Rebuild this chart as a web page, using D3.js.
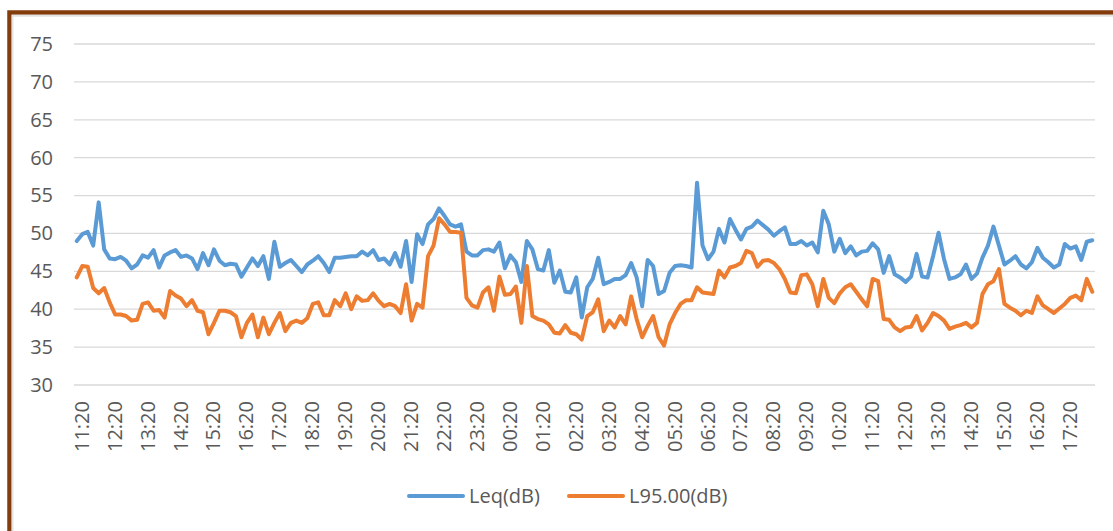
<!DOCTYPE html>
<html>
<head>
<meta charset="utf-8">
<script src="https://cdn.jsdelivr.net/npm/d3@7/dist/d3.min.js"></script>
<style>
  html, body { margin: 0; padding: 0; background: #ffffff; }
  svg { display: block; font-family: "Open Sans", "Noto Sans", sans-serif; }
</style>
</head>
<body>
<svg id="chart" width="1113" height="531"></svg>
<script>
// Sound level readings, one every 10 minutes starting at 11:20
const startTime = "11:20";
const stepMinutes = 10;

const leq = [
  49.0, 49.9, 50.2, 48.4, 54.1, 47.9, 46.7, 46.6, 46.9, 46.4,
  45.4, 45.9, 47.1, 46.8, 47.8, 45.5, 47.1, 47.5, 47.8, 46.9,
  47.1, 46.7, 45.3, 47.4, 45.8, 47.9, 46.4, 45.8, 46.0, 45.9,
  44.3, 45.5, 46.7, 45.7, 47.0, 44.0, 48.9, 45.6, 46.1, 46.5,
  45.7, 44.9, 45.9, 46.4, 47.0, 46.1, 44.9, 46.8, 46.8, 46.9,
  47.0, 47.0, 47.6, 47.1, 47.8, 46.5, 46.7, 45.9, 47.4, 45.6,
  49.0, 43.6, 49.9, 48.6, 51.2, 51.9, 53.3, 52.3, 51.2, 50.9,
  51.2, 47.6, 47.1, 47.1, 47.8, 47.9, 47.6, 48.8, 45.4, 47.1,
  46.2, 43.6, 49.0, 47.9, 45.3, 45.1, 47.8, 43.5, 45.1, 42.3,
  42.2, 44.2, 38.9, 42.9, 44.0, 46.8, 43.3, 43.6, 44.0, 44.0,
  44.5, 46.1, 44.2, 40.4, 46.5, 45.7, 42.0, 42.4, 44.8, 45.7,
  45.8, 45.7, 45.5, 56.7, 48.4, 46.6, 47.6, 50.6, 48.8, 51.9,
  50.5, 49.2, 50.6, 50.9, 51.7, 51.1, 50.5, 49.7, 50.3, 50.8,
  48.6, 48.6, 49.0, 48.4, 48.8, 47.5, 53.0, 51.2, 47.6, 49.3,
  47.4, 48.3, 47.1, 47.6, 47.7, 48.7, 47.9, 44.8, 47.0, 44.6,
  44.2, 43.6, 44.3, 47.3, 44.3, 44.2, 47.0, 50.1, 46.6, 44.0,
  44.2, 44.6, 45.9, 44.0, 44.7, 46.8, 48.4, 50.9, 48.4, 45.9,
  46.4, 47.0, 45.9, 45.4, 46.2, 48.1, 46.8, 46.2, 45.5, 45.9,
  48.6, 48.0, 48.3, 46.5, 48.9, 49.1
];

const l95 = [
  44.2, 45.7, 45.6, 42.8, 42.1, 42.8, 40.9, 39.3, 39.3, 39.1,
  38.5, 38.6, 40.7, 40.9, 39.8, 39.9, 38.9, 42.4, 41.8, 41.4,
  40.4, 41.2, 39.8, 39.6, 36.7, 38.2, 39.8, 39.8, 39.6, 39.1,
  36.3, 38.2, 39.3, 36.3, 38.9, 36.7, 38.2, 39.5, 37.1, 38.2,
  38.5, 38.2, 38.8, 40.7, 40.9, 39.2, 39.2, 41.2, 40.4, 42.1,
  40.0, 41.7, 41.1, 41.2, 42.1, 41.1, 40.4, 40.7, 40.4, 39.5,
  43.3, 38.5, 40.7, 40.2, 47.0, 48.4, 52.0, 51.2, 50.2, 50.2,
  50.1, 41.5, 40.5, 40.2, 42.2, 42.9, 39.8, 44.3, 41.9, 42.0,
  43.0, 38.2, 45.7, 39.1, 38.7, 38.5, 38.0, 36.9, 36.8, 37.9,
  36.9, 36.7, 36.0, 39.1, 39.6, 41.3, 37.1, 38.5, 37.6, 39.1,
  38.0, 41.7, 38.7, 36.3, 37.8, 39.1, 36.3, 35.2, 38.0, 39.5,
  40.7, 41.2, 41.2, 42.9, 42.2, 42.1, 42.0, 45.1, 44.2, 45.5,
  45.7, 46.1, 47.7, 47.4, 45.6, 46.4, 46.5, 46.1, 45.3, 44.0,
  42.2, 42.1, 44.5, 44.6, 43.3, 40.4, 44.0, 41.5, 40.8, 42.1,
  42.9, 43.3, 42.3, 41.3, 40.4, 44.0, 43.7, 38.7, 38.6, 37.6,
  37.1, 37.6, 37.7, 39.1, 37.2, 38.2, 39.5, 39.1, 38.5, 37.4,
  37.7, 37.9, 38.2, 37.6, 38.2, 42.0, 43.3, 43.7, 45.3, 40.7,
  40.2, 39.8, 39.2, 39.8, 39.5, 41.7, 40.5, 40.0, 39.5, 40.1,
  40.7, 41.5, 41.8, 41.2, 44.0, 42.3
];

const tickLabels = [
  "11:20", "12:20", "13:20", "14:20", "15:20", "16:20", "17:20", "18:20",
  "19:20", "20:20", "21:20", "22:20", "23:20", "00:20", "01:20", "02:20",
  "03:20", "04:20", "05:20", "06:20", "07:20", "08:20", "09:20", "10:20",
  "11:20", "12:20", "13:20", "14:20", "15:20", "16:20", "17:20"
];

const yTicks = [30, 35, 40, 45, 50, 55, 60, 65, 70, 75];

const seriesNames = ["Leq(dB)", "L95.00(dB)"];
const seriesColors = ["#5b9bd5", "#ed7d31"];

// Category labels (HH:MM) for every reading
const fmt = d3.timeFormat("%H:%M");
const t0 = d3.timeParse("%H:%M")(startTime);
const categories = leq.map((_, i) => fmt(d3.timeMinute.offset(t0, i * stepMinutes)));

const svg = d3.select("#chart");

// Frame
svg.append("rect")
  .attr("x", 9.5).attr("y", 12.5)
  .attr("width", 1200).attr("height", 600)
  .attr("fill", "none")
  .attr("stroke", "#843c0c")
  .attr("stroke-width", 4.5);
svg.append("path")
  .attr("d", "M12.5,1200V15.8H1200")
  .attr("fill", "none")
  .attr("stroke", "#e4e4e4")
  .attr("stroke-width", 2);

const plot = { left: 74, right: 1095, top: 44, bottom: 385 };

const x = d3.scalePoint()
  .domain(d3.range(categories.length))
  .range([plot.left, plot.right])
  .padding(0.5);

const y = d3.scaleLinear()
  .domain([30, 75])
  .range([plot.bottom, plot.top]);

// Horizontal gridlines
svg.append("g")
  .selectAll("line")
  .data(yTicks)
  .join("line")
  .attr("x1", plot.left).attr("x2", plot.right)
  .attr("y1", d => y(d)).attr("y2", d => y(d))
  .attr("stroke", "#d9d9d9")
  .attr("stroke-width", 1.3);

// Y axis
const yAxis = svg.append("g")
  .attr("transform", `translate(${plot.left - 21},0)`)
  .call(d3.axisLeft(y).tickValues(yTicks).tickSize(0).tickPadding(0));
yAxis.select(".domain").remove();
yAxis.selectAll("text")
  .attr("fill", "#595959")
  .style("font-size", "20px")
  .style("font-family", "'Open Sans', 'Noto Sans', sans-serif");

// X axis: a label every hour
const tickIdx = tickLabels.map((lab, k) => k * 6);
const xAxis = svg.append("g")
  .attr("transform", `translate(0,${plot.bottom})`)
  .call(d3.axisBottom(x).tickValues(tickIdx).tickSize(0)
    .tickFormat((d, k) => tickLabels[k]));
xAxis.select(".domain").remove();
xAxis.selectAll("text")
  .attr("fill", "#595959")
  .style("font-size", "20px")
  .style("font-family", "'Open Sans', 'Noto Sans', sans-serif")
  .attr("text-anchor", "end")
  .attr("transform", "translate(4.5,16) rotate(-90)")
  .attr("x", 0)
  .attr("y", 0)
  .attr("dy", "0.35em");

// Series lines
const line = d3.line()
  .x((d, i) => x(i))
  .y(d => y(d));

[leq, l95].forEach((vals, s) => {
  svg.append("path")
    .datum(vals)
    .attr("d", line)
    .attr("fill", "none")
    .attr("stroke", seriesColors[s])
    .attr("stroke-width", 4)
    .attr("stroke-linejoin", "round")
    .attr("stroke-linecap", "round");
});

// Legend
const legendItems = [
  { x: 409, name: seriesNames[0], color: seriesColors[0] },
  { x: 569, name: seriesNames[1], color: seriesColors[1] }
];
const lg = svg.append("g").attr("transform", "translate(0,496)");
legendItems.forEach(it => {
  lg.append("line")
    .attr("x1", it.x).attr("x2", it.x + 54)
    .attr("y1", 0).attr("y2", 0)
    .attr("stroke", it.color)
    .attr("stroke-width", 4)
    .attr("stroke-linecap", "round");
  lg.append("text")
    .attr("x", it.x + 60).attr("y", 0)
    .attr("dy", "0.35em")
    .attr("fill", "#595959")
    .style("font-size", "20px")
    .text(it.name);
});
</script>
</body>
</html>
